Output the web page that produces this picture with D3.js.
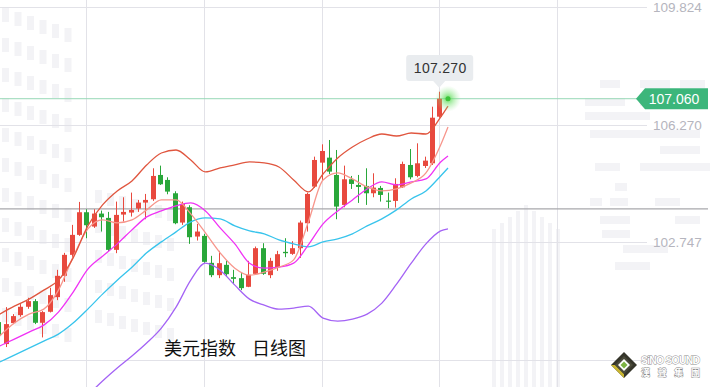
<!DOCTYPE html>
<html>
<head>
<meta charset="utf-8">
<title>美元指数 日线图</title>
<style>
body{margin:0;background:#fff;}
svg{display:block;font-family:"Liberation Sans",Arial,sans-serif;}
</style>
</head>
<body>
<div id="chart"></div>
<script src="https://cdn.jsdelivr.net/npm/d3@7"></script>
<script>
// daily candles, oldest first
var opens  = [100.35,99.69,100.32,100.56,100.81,100.98,100.33,100.66,101.10,101.74,102.37,102.97,103.65,103.22,103.61,103.48,102.52,103.58,103.64,103.76,103.94,104.04,104.77,104.62,104.22,103.34,103.80,102.92,102.94,102.13,101.76,102.07,101.70,101.67,101.41,101.80,102.57,101.76,102.00,102.46,102.40,102.57,103.32,104.42,105.14,105.29,104.77,103.87,104.64,104.47,104.44,104.22,104.38,104.00,103.99,104.40,105.07,104.74,105.04,105.12,106.52];
var highs  = [100.44,100.80,100.59,100.89,101.08,101.04,100.68,101.38,101.92,102.43,103.27,103.96,103.74,103.74,103.70,103.66,103.97,104.10,104.24,104.02,104.20,104.97,105.05,104.70,104.28,103.97,103.86,103.30,103.00,102.34,102.49,102.19,101.92,101.82,102.19,102.62,102.72,102.28,102.49,102.87,102.78,103.40,104.24,105.32,105.69,105.82,105.52,105.05,104.74,104.77,104.97,104.82,104.44,104.24,104.67,105.17,105.55,105.72,105.32,106.82,107.27];
var lows   = [99.87,99.60,100.29,100.51,100.75,100.29,99.89,100.64,101.01,101.56,102.25,102.94,102.87,103.18,103.07,102.48,102.42,103.37,103.52,103.66,103.44,103.99,104.47,104.19,103.29,103.27,102.70,102.80,102.13,101.70,101.67,101.71,101.49,101.31,101.40,101.77,101.77,101.67,101.89,102.30,102.37,102.28,103.07,104.38,104.62,104.80,103.44,103.80,104.35,103.93,103.87,104.10,103.97,103.77,103.79,104.38,104.64,104.70,104.98,105.07,106.49];
var closes = [99.96,100.29,100.53,100.81,100.98,100.33,100.65,101.16,101.74,102.37,102.97,103.65,103.26,103.61,103.50,102.52,103.57,103.66,103.72,103.94,104.02,104.74,104.49,104.27,103.32,103.90,102.90,103.07,102.16,101.76,102.12,101.79,101.65,101.37,101.77,102.57,101.80,102.19,102.39,102.42,102.57,103.34,104.20,105.22,105.49,104.87,103.82,104.64,104.50,104.41,104.22,104.39,104.17,103.98,104.50,105.10,104.70,105.12,105.20,106.49,107.06];

// overlay lines, read at these candle slots
var lineSlots = [-1,1,3,5,7,9,11,13,15,17,19,21,23,25,27,29,31,33,35,37,39,41,43,45,47,49,51,53,55,57,59,60];
var bollUpper = [100.59,100.83,101.04,101.31,101.61,102.28,103.24,103.87,104.29,104.59,105.07,105.43,105.52,105.22,104.86,104.98,105.07,105.16,105.13,105.01,104.62,104.26,104.80,105.28,105.61,105.85,106.00,105.94,106.03,106.00,106.51,106.84];
var ma5  = [99.93,100.32,100.59,100.74,101.31,102.31,103.15,103.42,103.33,103.42,103.72,104.02,104.02,103.60,103.03,102.43,101.97,101.76,101.85,102.00,102.22,103.36,104.62,104.83,104.65,104.41,104.29,104.35,104.53,104.83,105.67,106.21];
var ma10 = [99.63,99.84,100.05,100.26,100.65,101.25,101.94,102.33,102.70,103.12,103.51,103.69,103.84,103.93,103.69,103.18,102.70,102.12,101.97,102.00,102.12,102.67,103.30,103.69,104.02,104.35,104.56,104.47,104.56,104.65,105.16,105.34];
var ma20 = [99.15,99.36,99.57,99.78,99.99,100.32,100.74,101.19,101.61,102.00,102.43,102.76,103.06,103.36,103.48,103.45,103.24,103.09,103.00,102.82,102.70,102.61,102.76,102.85,103.00,103.24,103.45,103.72,104.05,104.29,104.74,104.98];
var bollLower = [null,null,null,null,null,97.77,98.16,98.58,98.97,99.33,99.72,100.17,100.80,101.61,102.12,101.91,101.46,101.04,100.86,100.74,100.77,100.83,100.47,100.38,100.44,100.59,100.92,101.49,102.12,102.70,103.09,103.15];

var yTicks = [109.824, 106.270, 102.747];
var yGrid = [109.824, 106.270, 102.747, 99.22];
var lastPrice = 107.060;
var highPrice = 107.270;
var crossPrice = 103.75;
var titleParts = ["美元指数", "日线图"];

var W = 710, H = 387, plotRight = 647;

var svg = d3.select("#chart").append("svg")
  .attr("width", W).attr("height", H);

var x = d3.scaleLinear().domain([0, 60]).range([-1.8, 439.2]);
var y = d3.scaleLinear().domain([102.747, 109.824]).range([242.3, 6.7]);
var lineShift = 8.8;

// faint building watermark
var wm = svg.append("g").attr("fill", "#f3f3f6");
for (var r = 0; r < 11; r++) {
  for (var c = 0; c < 6; c++) {
    var wx = 2 + c * 12.5, wy = 8 + r * 30 + c * 4;
    wm.append("rect").attr("x", wx).attr("y", wy).attr("width", 7).attr("height", 14);
  }
}
for (var r = 0; r < 5; r++) {
  for (var c = 0; c < 7; c++) {
    wm.append("rect").attr("x", 95 + c * 12).attr("y", 190 + r * 30 + c * 3).attr("width", 7).attr("height", 13);
  }
}
for (var c = 0; c < 9; c++) {
  wm.append("rect").attr("x", 492 + c * 8).attr("y", 205 + Math.abs(c - 4) * 6).attr("width", 4).attr("height", 190);
}
[[600,80,20],[640,80,30],[680,80,25],[585,98,40],[640,98,60],[585,112,65],[590,130,45],[630,130,70],[660,146,40],[595,163,25],[640,163,70],[615,183,12],[590,198,12],[610,198,18],[655,198,25],[600,216,30],[675,216,25],[602,230,28],[623,245,45],[615,262,35]]
  .forEach(function(b){ wm.append("rect").attr("x", b[0]).attr("y", b[1]).attr("width", b[2]).attr("height", 8); });

// grid
var grid = svg.append("g");
grid.selectAll(".hg").data(yGrid).enter().append("line")
  .attr("x1", 0).attr("x2", plotRight)
  .attr("y1", function(d){ return Math.round(y(d)) + 0.5; })
  .attr("y2", function(d){ return Math.round(y(d)) + 0.5; })
  .attr("stroke", "#e2e2e8").attr("stroke-width", 1);
var vGrid = [12, 28, 44, 60, 76];
grid.selectAll(".vg").data(vGrid).enter().append("line")
  .attr("x1", function(d){ return Math.round(x(d)) + 0.5; })
  .attr("x2", function(d){ return Math.round(x(d)) + 0.5; })
  .attr("y1", 0).attr("y2", H)
  .attr("stroke", "#e2e2e8").attr("stroke-width", 1);

// axis labels on the right
svg.selectAll(".ytick").data(yTicks).enter().append("text")
  .attr("x", 653).attr("y", function(d){ return y(d) + 5; })
  .attr("fill", "#b5b5be").attr("font-size", "13.5px")
  .text(function(d){ return d.toFixed(3); });

// crosshair and last price line
svg.append("line")
  .attr("x1", 0).attr("x2", 708)
  .attr("y1", y(crossPrice)).attr("y2", y(crossPrice))
  .attr("stroke", "#a8a8ac").attr("stroke-width", 1.3);
svg.append("line")
  .attr("x1", 0).attr("x2", 640)
  .attr("y1", y(lastPrice)).attr("y2", y(lastPrice))
  .attr("stroke", "#97d8b6").attr("stroke-width", 1);

// overlay lines
var overlays = [
  {vals: bollLower, color: "#a463f5"},
  {vals: ma20, color: "#38c4ec"},
  {vals: ma10, color: "#f032f5"},
  {vals: ma5, color: "#f7968c"},
  {vals: bollUpper, color: "#e0563f"}
];
var lineGen = d3.line()
  .defined(function(d){ return d.v != null; })
  .x(function(d){ return x(d.t) + lineShift; })
  .y(function(d){ return y(d.v); })
  .curve(d3.curveMonotoneX);

// candles
var candles = opens.map(function(o, i){
  return {i: i, o: o, h: highs[i], l: lows[i], c: closes[i]};
});
var cg = svg.append("g");
cg.selectAll(".wick").data(candles).enter().append("line")
  .attr("x1", function(d){ return Math.round(x(d.i)) + 0.5; })
  .attr("x2", function(d){ return Math.round(x(d.i)) + 0.5; })
  .attr("y1", function(d){ return y(d.h); })
  .attr("y2", function(d){ return y(d.l); })
  .attr("stroke", function(d){ return d.c >= d.o ? "#e8493e" : "#29a73a"; })
  .attr("stroke-width", 1);
cg.selectAll(".body").data(candles).enter().append("rect")
  .attr("x", function(d){ return Math.round(x(d.i)) - 2; })
  .attr("width", 5)
  .attr("y", function(d){ return y(Math.max(d.o, d.c)); })
  .attr("height", function(d){ return Math.max(1.2, Math.abs(y(d.o) - y(d.c))); })
  .attr("fill", function(d){ return d.c >= d.o ? "#e8493e" : "#29a73a"; });

overlays.forEach(function(s){
  var pts = lineSlots.map(function(t, k){ return {t: t, v: s.vals[k]}; });
  svg.append("path").datum(pts)
    .attr("d", lineGen)
    .attr("fill", "none")
    .attr("stroke", s.color)
    .attr("stroke-width", 1.3);
});

// glow at the last price
var defs = svg.append("defs");
var rg = defs.append("radialGradient").attr("id", "glow");
rg.append("stop").attr("offset", "0%").attr("stop-color", "#4fd94a").attr("stop-opacity", 0.9);
rg.append("stop").attr("offset", "45%").attr("stop-color", "#6fe06a").attr("stop-opacity", 0.45);
rg.append("stop").attr("offset", "100%").attr("stop-color", "#9cec98").attr("stop-opacity", 0);
var gx = x(60) + lineShift, gy = y(lastPrice);
svg.append("circle").attr("cx", gx).attr("cy", gy).attr("r", 13).attr("fill", "url(#glow)");
svg.append("circle").attr("cx", gx).attr("cy", gy).attr("r", 2.5).attr("fill", "#3cc43a");

// tooltip for the high
var tx = x(60), ty = y(highPrice);
var tip = svg.append("g");
tip.append("rect").attr("x", tx - 33).attr("y", 55).attr("width", 67).attr("height", 26)
  .attr("rx", 3).attr("fill", "#e9ecef");
tip.append("path")
  .attr("d", "M" + (tx - 6) + ",81L" + tx + "," + (ty - 4) + "L" + (tx + 6) + ",81Z")
  .attr("fill", "#e9ecef");
tip.append("text").attr("x", tx + 1).attr("y", 73).attr("text-anchor", "middle")
  .attr("font-size", "14px").attr("fill", "#333").attr("letter-spacing", "0.3px")
  .text(highPrice.toFixed(3));

// last price badge
var by = y(lastPrice);
svg.append("path")
  .attr("d", "M636," + by + "L645," + (by - 10.5) + "L708," + (by - 10.5) + "L708," + (by + 10.5) + "L645," + (by + 10.5) + "Z")
  .attr("fill", "#3cb67b");
svg.append("text").attr("x", 674).attr("y", by + 5).attr("text-anchor", "middle")
  .attr("font-size", "14px").attr("fill", "#fff")
  .text(lastPrice.toFixed(3));

// title
svg.append("text").attr("x", 164).attr("y", 355)
  .attr("font-family", "'Noto Sans CJK SC', sans-serif").attr("font-size", "18px").attr("fill", "#111")
  .text(titleParts[0]);
svg.append("text").attr("x", 252).attr("y", 355)
  .attr("font-family", "'Noto Sans CJK SC', sans-serif").attr("font-size", "18px").attr("fill", "#111")
  .text(titleParts[1]);

// logo
var logo = svg.append("g").attr("transform", "translate(624,365)");
logo.append("path").attr("d", "M0,-13L13,0L0,13L-13,0Z").attr("fill", "#35352a");
logo.append("path").attr("d", "M-13,0L0,13L0,9L-9,0Z").attr("fill", "#c9b52e");
logo.append("path").attr("d", "M0,-9L9,0L0,9L-9,0Z").attr("fill", "#4a4a3a");
logo.append("path").attr("d", "M0,-6L6,0L0,6L-6,0Z").attr("fill", "#fff");
logo.append("path").attr("d", "M0,-3.5L3.5,0L0,3.5L-3.5,0Z").attr("fill", "#7cb342");
svg.append("text").attr("x", 641).attr("y", 364)
  .attr("font-size", "10.5px").attr("font-weight", "bold").attr("fill", "#fff")
  .attr("stroke", "#8a8a8a").attr("stroke-width", 0.8).attr("paint-order", "stroke")
  .attr("textLength", 59)
  .text("SiNO SOUND");
svg.append("text").attr("x", 641).attr("y", 376)
  .attr("font-family", "'Noto Sans CJK TC', sans-serif")
  .attr("font-size", "9px").attr("font-weight", "bold").attr("fill", "#fff")
  .attr("stroke", "#8a8a8a").attr("stroke-width", 0.8).attr("paint-order", "stroke")
  .attr("textLength", 59)
  .text("漢聲集團");
</script>
</body>
</html>
